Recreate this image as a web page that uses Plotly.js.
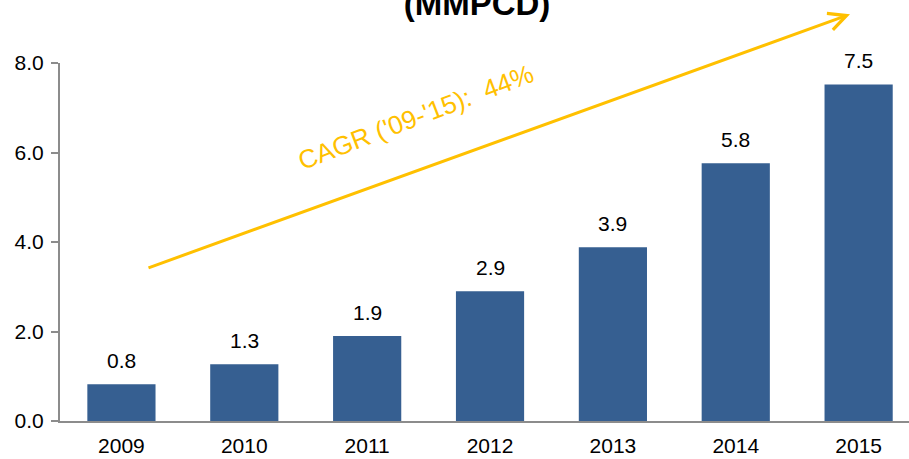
<!DOCTYPE html>
<html>
<head>
<meta charset="utf-8">
<script src="https://cdn.plot.ly/plotly-3.0.1.min.js"></script>
<style>html,body{margin:0;padding:0;background:#fff;}#chart{width:909px;height:459px;}</style>
</head>
<body>
<div id="chart"></div>
<script>
const years = ['2009', '2010', '2011', '2012', '2013', '2014', '2015'];
const volumes = [0.82, 1.27, 1.9, 2.9, 3.88, 5.76, 7.52];
const volumeLabels = ['0.8', '1.3', '1.9', '2.9', '3.9', '5.8', '7.5'];
const yTicks = [0, 2, 4, 6, 8];
const yTickLabels = ['0.0', '2.0', '4.0', '6.0', '8.0'];
const titleText = '(MMPCD)';
const cagrText = "CAGR ('09-'15):  44%";

const FONT = 'Arial, "Liberation Sans", sans-serif';
const GOLD = '#FFC000';

const trace = {
  type: 'bar',
  x: years,
  y: volumes,
  width: 0.555,
  marker: {color: '#365F91', line: {width: 0}},
  hoverinfo: 'none'
};

const labelAnns = years.map((yr, i) => ({
  x: i, y: volumes[i], xref: 'x', yref: 'y',
  text: volumeLabels[i], showarrow: false,
  xanchor: 'center', yanchor: 'bottom', yshift: 10,
  font: {family: FONT, size: 21, color: '#000'}
}));

const layout = {
  width: 909, height: 459,
  margin: {l: 60, r: 0, t: 63, b: 38},
  paper_bgcolor: '#fff', plot_bgcolor: '#fff',
  showlegend: false,
  title: {
    text: '<b>' + titleText + '</b>',
    font: {family: FONT, size: 33, color: '#000'},
    x: 477 / 909, xanchor: 'center',
    y: 0.993, yref: 'container', yanchor: 'middle'
  },
  xaxis: {
    type: 'category',
    range: [-0.5, 6.41],
    showgrid: false, zeroline: false,
    showline: true, linecolor: '#8c8c8c', linewidth: 2,
    ticks: '', ticklabelstandoff: 5,
    tickfont: {family: FONT, size: 21, color: '#000'},
    fixedrange: true
  },
  yaxis: {
    range: [0, 8],
    tickvals: yTicks, ticktext: yTickLabels,
    showgrid: false, zeroline: false,
    showline: true, linecolor: '#8c8c8c', linewidth: 2,
    ticks: 'outside', ticklen: 7, tickwidth: 2, tickcolor: '#8c8c8c',
    ticklabelstandoff: 3,
    tickfont: {family: FONT, size: 21, color: '#000'},
    fixedrange: true
  },
  annotations: labelAnns.concat([
    {
      xref: 'paper', yref: 'paper',
      x: (850 - 60) / 849, y: (421 - 14) / 358.3,
      ax: -703, ay: 254, axref: 'pixel', ayref: 'pixel',
      text: '', showarrow: true,
      arrowhead: 5, arrowsize: 1.15, arrowwidth: 3, arrowcolor: GOLD,
      standoff: 0, startstandoff: 0
    },
    {
      xref: 'paper', yref: 'paper',
      x: (416 - 60) / 849, y: (421 - 117) / 358.3,
      xanchor: 'center', yanchor: 'middle',
      text: cagrText, showarrow: false, textangle: -21,
      font: {family: FONT, size: 26, color: GOLD}
    }
  ])
};

Plotly.newPlot('chart', [trace], layout, {displayModeBar: false, staticPlot: true});
</script>
</body>
</html>
